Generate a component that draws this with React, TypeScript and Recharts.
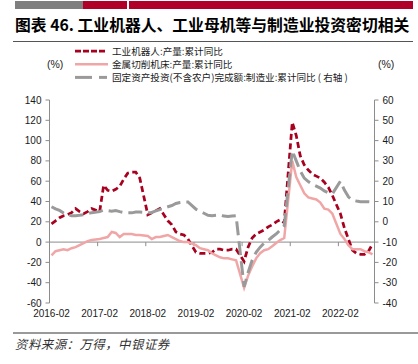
import { LineChart, Line, XAxis, YAxis, ReferenceLine } from 'recharts';

// months 2016-02 .. 2022-10 (January values are not published -> null)
const months: string[] = [];
for (let k = 0; k < 81; k++) {
  const t = 2016 * 12 + 1 + k;
  months.push(`${Math.floor(t / 12)}-${String((t % 12) + 1).padStart(2, '0')}`);
}

const xTickLabels = ['2016-02', '2017-02', '2018-02', '2019-02', '2020-02', '2021-02', '2022-02'];
const leftTicks = [-60, -40, -20, 0, 20, 40, 60, 80, 100, 120, 140];
const rightTicks = [-40, -30, -20, -10, 0, 10, 20, 30, 40, 50, 60];

// 工业机器人:产量:累计同比 (left axis)
const robot = [
  18, 21, 24, 26, 27, 29, 33, 30, 28, 30, 33, null,
  30, 56, 51, 50, 52, 55, 62, 68, 69, 69, 63, null,
  27, 29, 31, 33, 27, 21, 17, 10, 8, 7, 3, null,
  -10, -11, -11, -11, -10, -7, -7, -8, -8, -7, -7, null,
  -19, -5, 4, 8, 10, 12, 15, 17, 20, 22, 19, null,
  118, 105, 85, 76, 71, 67, 65, 63, 59, 54, 46, null,
  28, 14, 3, -8, -11, -12, -12, -9, -2,
];

// 金属切削机床:产量:累计同比 (left axis)
const tool = [
  -13, -9, -8, -7, -8, -6, -5, -3, -1, 1, 2, null,
  3, 4, 5, 10, 9, 5, 8, 8, 8, 7, 7, null,
  6, 3, 5, 5, 6, 7, 5, 3, 1, 0, 0, null,
  -3, -6, -7, -8, -11, -13, -15, -16, -16, -17, -18, null,
  -45, -33, -24, -16, -11, -8, -7, -4, -1, 2, 4, null,
  80, 64, 56, 48, 44, 43, 42, 39, 33, 32, 28, null,
  8, 3, -3, -7, -7, -7, -9, -10, -12,
];

// 固定资产投资(不含农户)完成额:制造业:累计同比 (right axis)
const fai = [
  7.4, 6.4, 5.6, 4.3, 3.3, 3.0, 3.0, 3.2, 3.5, 4.0, 4.5, null,
  5.0, 5.8, 5.5, 5.2, 5.5, 5.0, 4.6, 4.4, 4.4, 4.8, 4.8, null,
  4.4, 4.6, 5.4, 6.0, 6.8, 7.4, 8.0, 9.0, 9.5, 9.8, 9.8, null,
  6.2, 5.2, 4.2, 3.2, 3.0, 3.2, 3.4, 2.8, 2.6, 2.8, 3.0, null,
  -32, -25, -19, -15, -12.5, -10.5, -9.2, -7.5, -6, -4, -2, null,
  35, 30, 25, 21.5, 19.8, 18.5, 17.6, 16.6, 15.2, 14.3, 13.8, null,
  20, 15.6, 12.3, 10.6, 10.2, 9.9, 9.9, 9.9, 9.8,
];

const RED = '#A8001F';
const PINK = '#F0A6A6';
const GRAY = '#9A9A9A';
const AXIS = '#8C8C8C';

const data = months.map((m, i) => ({ i, month: m, robot: robot[i], tool: tool[i], fai: fai[i] }));

const yearBounds = [11.5, 23.5, 35.5, 47.5, 59.5, 71.5];

const tickFont = { fill: '#1a1a1a', fontSize: 10, fontFamily: '"Liberation Sans", Arial, sans-serif' };
const cjk = '"Noto Sans CJK SC", "Noto Sans", sans-serif';

export default function App() {
  return (
    <div style={{ position: 'absolute', left: 0, top: 0, width: 418, height: 364, background: '#fff', overflow: 'hidden' }}>
      {/* header bars */}
      <div style={{ position: 'absolute', left: 15, top: 1, width: 68, height: 8, background: '#7F7F7F' }} />
      <div style={{ position: 'absolute', left: 83, top: 1, width: 44, height: 8, background: '#B0002A' }} />
      <div style={{ position: 'absolute', left: 129, top: 1, width: 284, height: 8, background: '#B0002A' }} />
      <div
        style={{
          position: 'absolute', left: 15, top: 17, fontFamily: cjk, fontWeight: 700, fontSize: 15.8,
          lineHeight: '16px', color: '#000', whiteSpace: 'nowrap',
        }}
      >
        图表 46. 工业机器人、工业母机等与制造业投资密切相关
      </div>
      <div style={{ position: 'absolute', left: 13, top: 41, width: 400, height: 1, background: '#555' }} />

      <div style={{ position: 'absolute', left: 0, top: 0 }}>
        <LineChart width={418} height={364} data={data} margin={{ top: 100, right: 13.5, bottom: 41, left: 14.5 }}>
          <XAxis
            dataKey="i"
            type="number"
            domain={[-0.5, 80.5]}
            ticks={[0, 12, 24, 36, 48, 60, 72]}
            tickFormatter={(v: number) => xTickLabels[v / 12]}
            axisLine={false}
            tickLine={false}
            tickSize={0}
            tickMargin={7}
            height={20}
            tick={tickFont}
            interval={0}
          />
          <YAxis
            yAxisId="left"
            domain={[-60, 140]}
            ticks={leftTicks}
            width={35}
            tickSize={4}
            tickMargin={4}
            stroke={AXIS}
            tick={tickFont}
            interval={0}
          />
          <YAxis
            yAxisId="right"
            orientation="right"
            domain={[-40, 60]}
            ticks={rightTicks}
            width={30}
            tickSize={4}
            tickMargin={4}
            stroke={AXIS}
            tick={tickFont}
            interval={0}
          />
          <ReferenceLine y={0} yAxisId="left" stroke={AXIS} strokeWidth={1} />
          {yearBounds.map((b) => (
            <ReferenceLine
              key={b}
              yAxisId="left"
              stroke={AXIS}
              segment={[{ x: b, y: 0 }, { x: b, y: -4 }]}
            />
          ))}
          <Line
            yAxisId="left"
            dataKey="robot"
            stroke={RED}
            strokeWidth={2.75}
            strokeDasharray="6 3.5"
            dot={false}
            connectNulls
            isAnimationActive={false}
          />
          <Line
            yAxisId="left"
            dataKey="tool"
            stroke={PINK}
            strokeWidth={2.5}
            dot={false}
            connectNulls
            isAnimationActive={false}
          />
          <Line
            yAxisId="right"
            dataKey="fai"
            stroke={GRAY}
            strokeWidth={3}
            strokeDasharray="14 6"
            dot={false}
            connectNulls
            isAnimationActive={false}
          />
        </LineChart>
      </div>

      {/* legend and unit labels */}
      <svg width={418} height={364} style={{ position: 'absolute', left: 0, top: 0, pointerEvents: 'none' }}>
        <line x1={75} y1={51} x2={105} y2={51} stroke={RED} strokeWidth={2.75} strokeDasharray="6 2" />
        <line x1={75} y1={64.2} x2={108} y2={64.2} stroke={PINK} strokeWidth={2.5} />
        <line x1={75} y1={77.4} x2={92} y2={77.4} stroke={GRAY} strokeWidth={3} />
        <line x1={99} y1={77.4} x2={107} y2={77.4} stroke={GRAY} strokeWidth={3} />
        <g fontFamily={cjk} fontSize={9.6} fill="#1a1a1a">
          <text x={112} y={51} dominantBaseline="central">工业机器人:产量:累计同比</text>
          <text x={112} y={64.2} dominantBaseline="central">金属切削机床:产量:累计同比</text>
          <text x={112} y={77.4} dominantBaseline="central">固定资产投资(不含农户)完成额:制造业:累计同比 ( 右轴 )</text>
        </g>
        <g fontFamily='"Liberation Sans", Arial, sans-serif' fontSize={10.5} fill="#1a1a1a">
          <text x={47} y={64} dominantBaseline="central">(%)</text>
          <text x={378} y={64} dominantBaseline="central">(%)</text>
        </g>
      </svg>

      <div style={{ position: 'absolute', left: 13, top: 332, width: 405, height: 2, background: '#999' }} />
      <div
        style={{
          position: 'absolute', left: 15, top: 338, fontFamily: cjk, fontStyle: 'italic', fontSize: 12.4,
          lineHeight: '12px', letterSpacing: 0.5, color: '#333', whiteSpace: 'nowrap',
        }}
      >
        资料来源：万得，中银证券
      </div>
    </div>
  );
}
